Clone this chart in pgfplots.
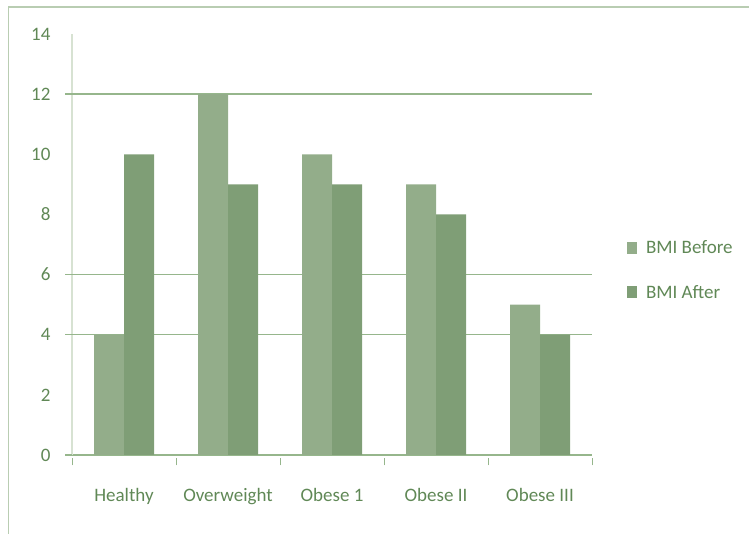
\documentclass[border=0pt]{standalone}
\usepackage{pgfplots}
\pgfplotsset{compat=1.18}
\usepackage{fontspec}
\setmainfont{Carlito}

\definecolor{before}{RGB}{147,173,138}
\definecolor{after}{RGB}{127,158,118}
\definecolor{gridc}{RGB}{150,182,140}
\definecolor{axisc}{RGB}{215,226,210}
\definecolor{textc}{RGB}{96,136,86}
\definecolor{framec}{RGB}{185,205,178}

\begin{document}
\begin{tikzpicture}[x=1pt,y=1pt]
  % page area and outer frame
  \useasboundingbox (0,0) rectangle (749,534);
  \draw[framec,line width=1.6pt] (8.5,-2) -- (8.5,527) -- (752,527);
  \begin{axis}[
    at={(72pt,79pt)}, anchor=south west,
    scale only axis,
    width=520pt, height=421pt,
    ybar=0pt, bar width=30pt,
    xmin=-0.5, xmax=4.5,
    ymin=0, ymax=14,
    xtick={0,1,2,3,4},
    xticklabels={Healthy,Overweight,Obese 1,Obese II,Obese III},
    minor xtick={-0.5,0.5,1.5,2.5,3.5,4.5},
    ytick={0,2,4,6,8,10,12,14},
    extra y ticks={4,6,12},
    extra y tick labels={},
    extra y tick style={ymajorgrids=true,
      major grid style={gridc,line width=1.5pt}},
    axis x line*=bottom, axis y line*=left,
    x axis line style={gridc,line width=1.5pt,-},
    y axis line style={axisc,line width=1.2pt,-},
    major x tick style={draw=none},
    minor x tick style={gridc,line width=1pt},
    minor tick length=7pt,
    xtick pos=bottom,
    every minor tick/.append style={yshift=-3.5pt},
    ytick style={draw=none},
    yticklabel style={font=\fontsize{19}{22}\selectfont, text=textc, xshift=-18pt},
    xticklabel style={font=\fontsize{19}{22}\selectfont, text=textc, yshift=-26pt},
    /pgf/number format/assume math mode=true,
    legend style={at={(1.067,0.439)}, anchor=west, draw=none, fill=none,
      font=\fontsize{19}{22}\selectfont, text=textc,
      row sep=26pt, column sep=7pt, inner sep=0pt},
    legend cell align=left,
    legend image code/.code={\fill[#1] (0pt,-6pt) rectangle (10pt,6pt);},
    clip=false,
  ]
    \addplot[fill=before, draw=none] coordinates {(0,4) (1,12) (2,10) (3,9) (4,5)};
    \addplot[fill=after, draw=none] coordinates {(0,10) (1,9) (2,9) (3,8) (4,4)};
    \legend{BMI Before, BMI After}
    % short outward tick stubs where the grid lines meet the value axis
    \pgfplotsinvokeforeach{0,4,6,12}{
      \draw[gridc,line width=1.5pt] ([xshift=-7pt]axis cs:-0.5,#1) -- (axis cs:-0.5,#1);
    }
  \end{axis}
\end{tikzpicture}
\end{document}
